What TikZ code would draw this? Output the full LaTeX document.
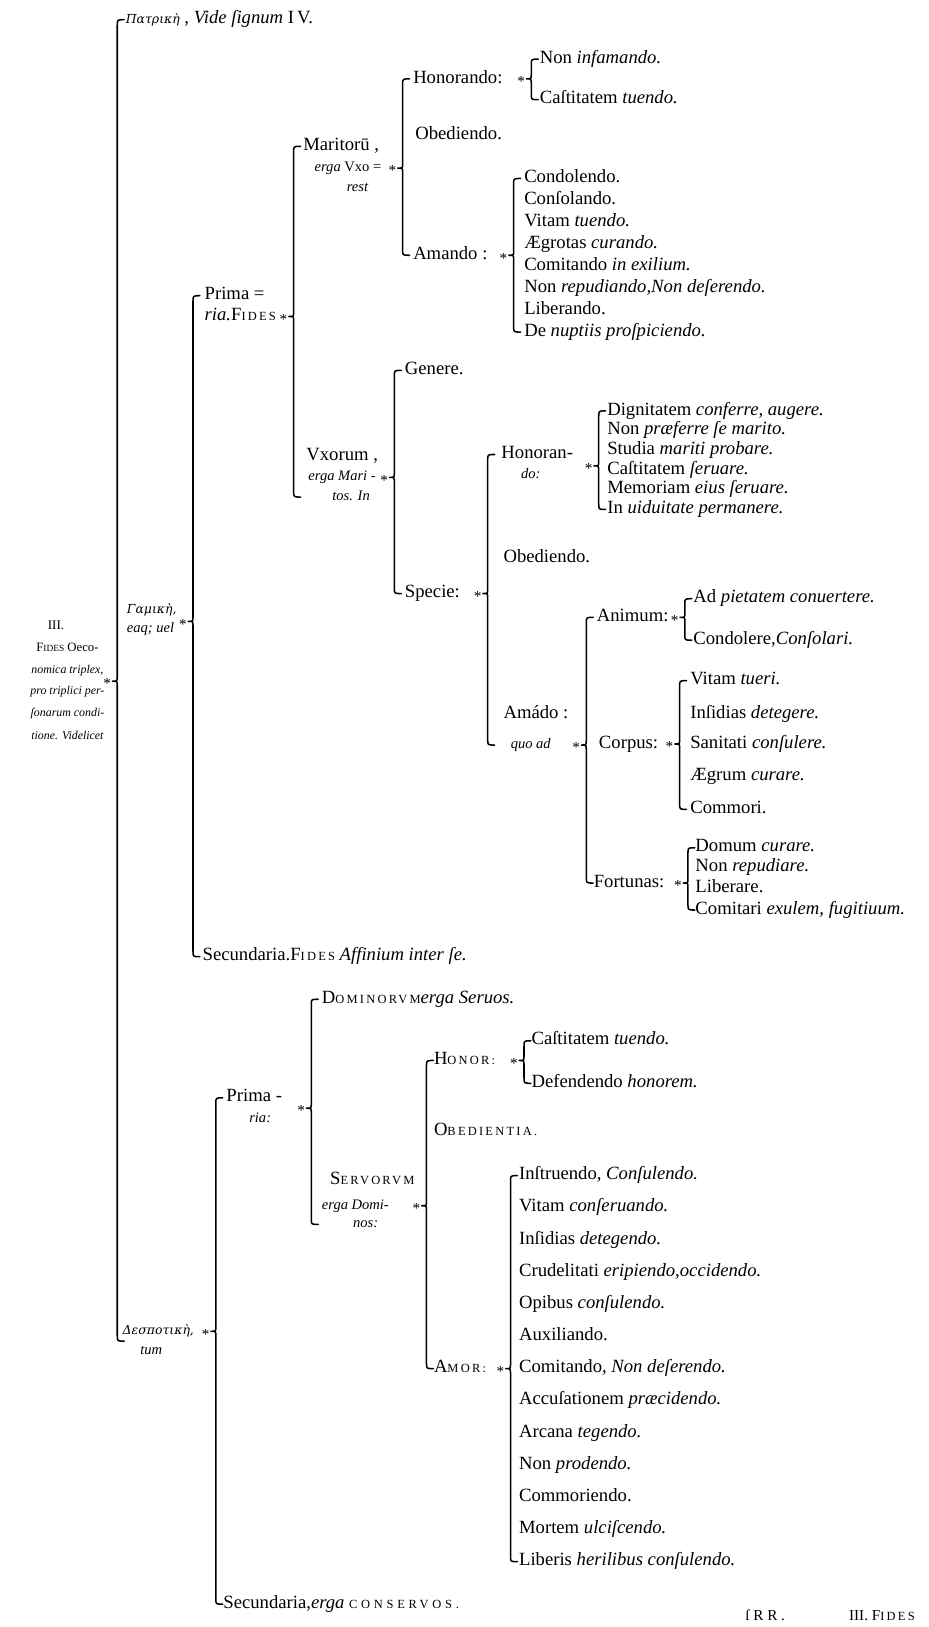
\documentclass[tikz,border=0pt]{standalone}
\usepackage{fontspec}
\setmainfont{Liberation Serif}
\newfontfamily\grk{DejaVu Serif}
\usetikzlibrary{calc}
\newcommand\smcap[2]{#1{\fontsize{9}{9}\selectfont\addfontfeatures{LetterSpace=18}#2}}
\newcommand\bracepath[4]{%
  \draw[brk] let \p1=#3, \p2=#4, \p3=#2, \n1={#1*0.75} in
    (\n1pt+5pt,\y1) .. controls (\n1pt,\y1) .. (\n1pt,\y1-4pt)
    -- (\n1pt,\y3+3pt) .. controls (\n1pt,\y3) .. (\n1pt-3.5pt,\y3)
    .. controls (\n1pt,\y3) .. (\n1pt,\y3-3pt)
    -- (\n1pt,\y2+4pt) .. controls (\n1pt,\y2) .. (\n1pt+5pt,\y2)
    (\n1pt-4pt,\y3) node[starmk] {*};
}
\tikzset{
  tx/.style={anchor=west, inner sep=0pt, font=\fontsize{13.5}{13.5}\selectfont, text height=9pt, text depth=3pt},
  txs/.style={anchor=west, inner sep=0pt, font=\fontsize{10.5}{10.5}\selectfont\itshape, text height=7.5pt, text depth=2.5pt},
  txg/.style={anchor=west, inner sep=0pt, font=\fontsize{9}{9}\selectfont\grk\itshape, text height=6.5pt, text depth=2pt},
  txr/.style={anchor=center, inner sep=0pt, font=\fontsize{8.6}{8.6}\selectfont\itshape, text height=6pt, text depth=2pt},
  brk/.style={line width=1.1pt, line cap=round, line join=round},
  starmk/.style={anchor=east, inner sep=0pt, font=\fontsize{11}{11}\selectfont, yshift=-2pt},
}
\begin{document}
\begin{tikzpicture}[x=0.75pt,y=-0.75pt]
\fill[white] (0,0) rectangle (895,1568);
\useasboundingbox (0,0) rectangle (895,1568);

% ---------- top ----------
\node[tx] (pat) at (121,19) {{\grk\itshape\fontsize{9}{9}\selectfont Πατρικὴ} , \textit{Vide ſignum} I\,V.};

\node[tx] (mar1) at (292,141) {Maritorū ,};
\node[txs] (mar2) at (303,162) {erga {\upshape Vxo =}};
\node[txs] (mar3) at (334,181) {rest};

\node[tx] (hon) at (398,76) {Honorando:};
\node[tx] (nin) at (520,57) {Non \textit{infamando.}};
\node[tx] (cat) at (520,96) {Caſtitatem \textit{tuendo.}};
\node[tx] (obe1) at (400,130) {Obediendo.};
\node[tx] (ama) at (398,246) {Amando :};

\node[tx] (a1) at (505,172) {Condolendo.};
\node[tx] (a2) at (505,193) {Conſolando.};
\node[tx] (a3) at (505,214) {Vitam \textit{tuendo.}};
\node[tx] (a4) at (505,235) {Ægrotas \textit{curando.}};
\node[tx] (a5) at (505,257) {Comitando \textit{in exilium.}};
\node[tx] (a6) at (505,278) {Non \textit{repudiando,Non deſerendo.}};
\node[tx] (a7) at (505,299) {Liberando.};
\node[tx] (a8) at (505,320) {De \textit{nuptiis proſpiciendo.}};

\node[tx] (pr1) at (197,285) {Prima =};
\node[tx] (pr2) at (197,305) {\textit{ria.}\smcap{F}{IDES}};

\node[txg] (gam1) at (122,588) {Γαμικὴ,};
\node[txs] (gam2) at (122,606) {eaq; uel};

\node[tx] (gen) at (390,357) {Genere.};
\node[tx] (vx1) at (295,440) {Vxorum ,};
\node[txs] (vx2) at (297,460) {erga Mari -};
\node[txs] (vx3) at (320,479) {tos. In};

\node[tx] (ho1) at (483,438) {Honoran-};
\node[txs] (ho2) at (502,458) {do:};
\node[tx] (d1) at (585,396) {Dignitatem \textit{conferre, augere.}};
\node[tx] (d2) at (585,415) {Non \textit{præferre ſe marito.}};
\node[tx] (d3) at (585,434) {Studia \textit{mariti probare.}};
\node[tx] (d4) at (585,453) {Caſtitatem \textit{ſeruare.}};
\node[tx] (d5) at (585,472) {Memoriam \textit{eius ſeruare.}};
\node[tx] (d6) at (585,491) {In \textit{uiduitate permanere.}};

\node[tx] (obe2) at (485,538) {Obediendo.};
\node[tx] (spe) at (390,572) {Specie:};

\node[tx] (ani) at (575,595) {Animum:};
\node[tx] (an1) at (668,577) {Ad \textit{pietatem conuertere.}};
\node[tx] (an2) at (668,617) {Condolere,\textit{Conſolari.}};

\node[tx] (am1) at (485,688) {Amádo :};
\node[txs] (am2) at (492,718) {quo ad};

\node[tx] (cor) at (577,717) {Corpus:};
\node[tx] (co1) at (665,656) {Vitam \textit{tueri.}};
\node[tx] (co2) at (665,688) {Inſidias \textit{detegere.}};
\node[tx] (co3) at (665,717) {Sanitati \textit{conſulere.}};
\node[tx] (co4) at (665,748) {Ægrum \textit{curare.}};
\node[tx] (co5) at (665,780) {Commori.};

\node[tx] (fort) at (572,851) {Fortunas:};
\node[tx] (fo1) at (670,817) {Domum \textit{curare.}};
\node[tx] (fo2) at (670,836) {Non \textit{repudiare.}};
\node[tx] (fo3) at (670,856) {Liberare.};
\node[tx] (fo4) at (670,877) {Comitari \textit{exulem, fugitiuum.}};

\node[tx] (sec1) at (195,922) {Secundaria.\smcap{F}{IDES} \textit{Affinium inter ſe.}};

% ---------- root ----------
\node[txr, font=\fontsize{9.5}{9.5}\selectfont] (r1) at (54,604) {III.};
\node[txr, font=\fontsize{9.2}{9.2}\selectfont] (r2) at (65,625) {F{\fontsize{6.8}{6.8}\selectfont IDES} Oeco-};
\node[txr] (r3) at (65,646) {nomica triplex,};
\node[txr] (r4) at (65,667) {pro triplici per-};
\node[txr] (r5) at (65,688) {ſonarum condi-};
\node[txr] (r6) at (65,710) {tione. Videlicet};

% ---------- lower ----------
\node[tx] (dom) at (310,963) {\smcap{D}{OMINORVM}\textit{erga Seruos.}};
\node[tx] (hnr) at (418,1022) {\smcap{H}{ONOR:}};
\node[tx] (hc1) at (512,1003) {Caſtitatem \textit{tuendo.}};
\node[tx] (hc2) at (512,1044) {Defendendo \textit{honorem.}};
\node[tx] (lp1) at (218,1058) {Prima -};
\node[txs] (lp2) at (240,1078) {ria:};
\node[tx] (obd) at (418,1090) {\smcap{O}{BEDIENTIA.}};
\node[tx] (sv1) at (318,1138) {\smcap{S}{ERVORVM}};
\node[txs] (sv2) at (310,1162) {erga Domi-};
\node[txs] (sv3) at (340,1180) {nos:};
\node[tx] (amor) at (418,1319) {\smcap{A}{MOR:}};

\node[tx] (m1) at (500,1133) {Inſtruendo, \textit{Conſulendo.}};
\node[tx] (m2) at (500,1164) {Vitam \textit{conſeruando.}};
\node[tx] (m3) at (500,1195) {Inſidias \textit{detegendo.}};
\node[tx] (m4) at (500,1226) {Crudelitati \textit{eripiendo,occidendo.}};
\node[tx] (m5) at (500,1257) {Opibus \textit{conſulendo.}};
\node[tx] (m6) at (500,1288) {Auxiliando.};
\node[tx] (m7) at (500,1319) {Comitando, \textit{Non deſerendo.}};
\node[tx] (m8) at (500,1350) {Accuſationem \textit{præcidendo.}};
\node[tx] (m9) at (500,1381) {Arcana \textit{tegendo.}};
\node[tx] (m10) at (500,1412) {Non \textit{prodendo.}};
\node[tx] (m11) at (500,1443) {Commoriendo.};
\node[tx] (m12) at (500,1474) {Mortem \textit{ulciſcendo.}};
\node[tx] (m13) at (500,1505) {Liberis \textit{herilibus conſulendo.}};

\node[txg] (des1) at (118,1283) {Δεσποτικὴ,};
\node[txs] (des2) at (135,1302) {tum};
\node[tx] (ls) at (215,1546) {Secundaria,\textit{erga} {\fontsize{9}{9}\selectfont\addfontfeatures{LetterSpace=30}CONSERVOS.}};

\node[tx, font=\fontsize{11}{11}\selectfont] (sig) at (718,1558) {ſ R R .};
\node[tx, font=\fontsize{11}{11}\selectfont] (nxt) at (818,1558) {III. \smcap{F}{IDES}};

% ---------- braces ----------
\bracepath{113}{($(r3.east)!0.5!(r4.east)$)}{(pat.west)}{($(des1.west)!0.5!(des2.west)$)}
\bracepath{186}{($(gam1.east)!0.6!(gam2.east)$)}{(pr1.west)}{(sec1.west)}
\bracepath{283}{(pr2.east)}{(mar1.west)}{(vx3.west)}
\bracepath{388}{(mar2.east)}{(hon.west)}{(ama.west)}
\bracepath{512}{(hon.east)}{(nin.west)}{(cat.west)}
\bracepath{495}{(ama.east)}{(a1.west)}{(a8.west)}
\bracepath{380}{(vx2.east)}{(gen.west)}{(spe.west)}
\bracepath{577}{($(ho1.east)!0.55!(ho2.east)$)}{(d1.west)}{(d6.west)}
\bracepath{470}{(spe.east)}{(ho1.west)}{(am2.west)}
\bracepath{565}{(am2.east)}{(ani.west)}{(fort.west)}
\bracepath{660}{(ani.east)}{(an1.west)}{(an2.west)}
\bracepath{655}{(cor.east)}{(co1.west)}{(co5.west)}
\bracepath{663}{(fort.east)}{(fo1.west)}{(fo4.west)}
\bracepath{208}{(des1.east)}{(lp1.west)}{(ls.west)}
\bracepath{300}{($(lp1.east)!0.5!(lp2.east)$)}{(dom.west)}{(sv3.west)}
\bracepath{411}{(sv2.east)}{(hnr.west)}{(amor.west)}
\bracepath{505}{(hnr.east)}{(hc1.west)}{(hc2.west)}
\bracepath{492}{(amor.east)}{(m1.west)}{(m13.west)}
\end{tikzpicture}
\end{document}
